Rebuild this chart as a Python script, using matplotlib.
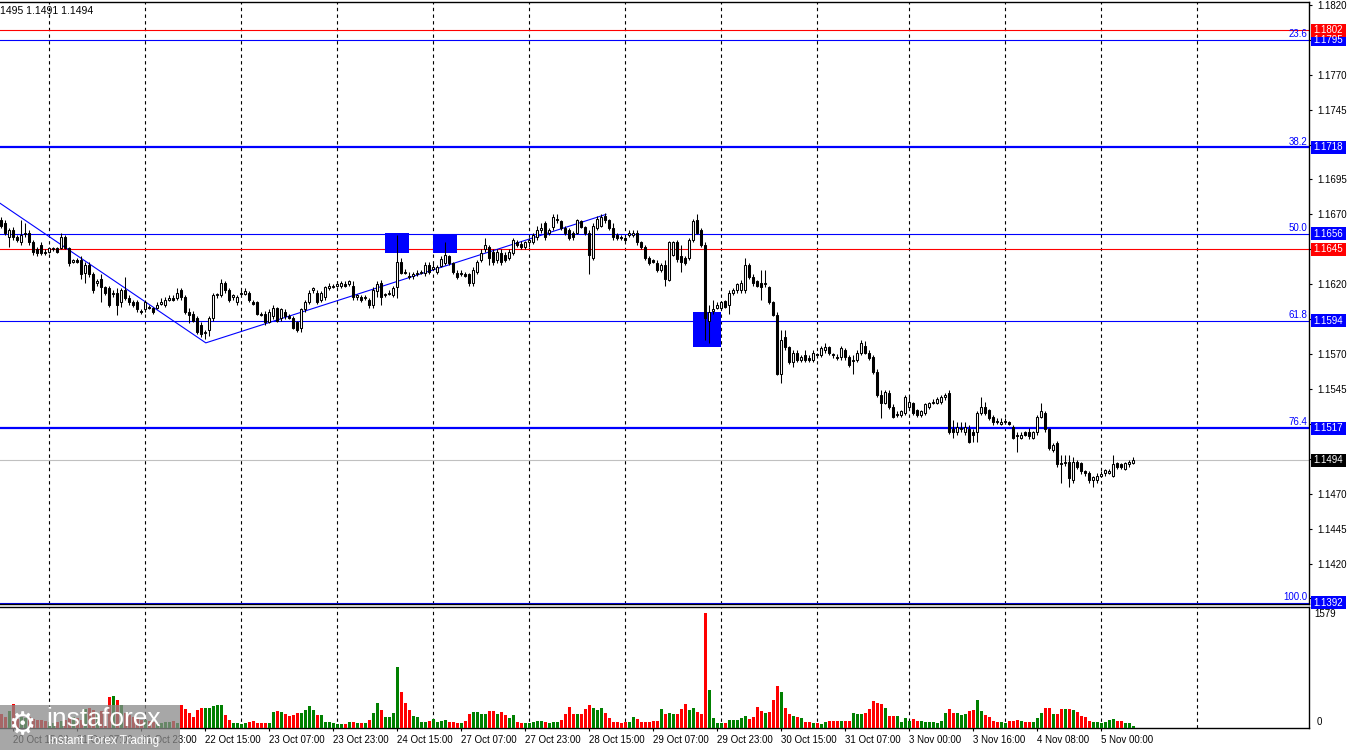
import numpy as np
import matplotlib
matplotlib.use('Agg')
import matplotlib.pyplot as plt
import matplotlib.transforms as mtransforms
from matplotlib.patches import Rectangle

plt.rcParams['font.family'] = ['Liberation Sans', 'DejaVu Sans']

#---------- EURUSD H1 candles ----------
opens = [1.1666, 1.1664, 1.1654, 1.1659, 1.1654, 1.1650, 1.1656, 1.1657, 1.1650, 1.1645,
         1.1648, 1.1643, 1.1643, 1.1645, 1.1646, 1.1646, 1.1654, 1.1646, 1.1636, 1.1637,
         1.1637, 1.1628, 1.1634, 1.1627, 1.1621, 1.1624, 1.1618, 1.1617, 1.1613, 1.1614,
         1.1607, 1.1616, 1.1610, 1.1607, 1.1607, 1.1601, 1.1602, 1.1604, 1.1603, 1.1603,
         1.1606, 1.1605, 1.1609, 1.1610, 1.1610, 1.1616, 1.1611, 1.1600, 1.1599, 1.1596,
         1.1591, 1.1585, 1.1587, 1.1596, 1.1612, 1.1612, 1.1621, 1.1616, 1.1611, 1.1607,
         1.1613, 1.1613, 1.1614, 1.1607, 1.1607, 1.1599, 1.1599, 1.1593, 1.1597, 1.1603,
         1.1596, 1.1600, 1.1597, 1.1596, 1.1593, 1.1589, 1.1602, 1.1607, 1.1616, 1.1614,
         1.1609, 1.1611, 1.1617, 1.1618, 1.1619, 1.1619, 1.1620, 1.1620, 1.1619, 1.1611,
         1.1611, 1.1610, 1.1609, 1.1605, 1.1615, 1.1621, 1.1612, 1.1613, 1.1612, 1.1618,
         1.1636, 1.1629, 1.1626, 1.1626, 1.1627, 1.1628, 1.1628, 1.1634, 1.1631, 1.1629,
         1.1633, 1.1635, 1.1640, 1.1635, 1.1628, 1.1627, 1.1627, 1.1627, 1.1621, 1.1629,
         1.1637, 1.1645, 1.1647, 1.1643, 1.1637, 1.1642, 1.1641, 1.1639, 1.1642, 1.1650,
         1.1649, 1.1647, 1.1650, 1.1650, 1.1654, 1.1659, 1.1664, 1.1657, 1.1661, 1.1666,
         1.1665, 1.1660, 1.1659, 1.1657, 1.1657, 1.1665, 1.1661, 1.1657, 1.1639, 1.1660,
         1.1662, 1.1669, 1.1666, 1.1660, 1.1655, 1.1654, 1.1653, 1.1655, 1.1655, 1.1657,
         1.1650, 1.1647, 1.1639, 1.1637, 1.1635, 1.1630, 1.1634, 1.1623, 1.1641, 1.1650,
         1.1640, 1.1639, 1.1639, 1.1652, 1.1666, 1.1659, 1.1648, 1.1594, 1.1601, 1.1603,
         1.1603, 1.1608, 1.1605, 1.1614, 1.1616, 1.1616, 1.1616, 1.1634, 1.1625, 1.1622,
         1.1621, 1.1620, 1.1618, 1.1607, 1.1598, 1.1556, 1.1582, 1.1575, 1.1564, 1.1571,
         1.1566, 1.1569, 1.1567, 1.1566, 1.1570, 1.1569, 1.1573, 1.1575, 1.1570, 1.1568,
         1.1568, 1.1573, 1.1568, 1.1565, 1.1566, 1.1571, 1.1576, 1.1571, 1.1568, 1.1557,
         1.1541, 1.1535, 1.1542, 1.1532, 1.1526, 1.1526, 1.1528, 1.1532, 1.1535, 1.1530,
         1.1526, 1.1528, 1.1532, 1.1535, 1.1535, 1.1536, 1.1539, 1.1542, 1.1516, 1.1514,
         1.1516, 1.1514, 1.1516, 1.1514, 1.1514, 1.1528, 1.1532, 1.1530, 1.1525, 1.1522,
         1.1520, 1.1521, 1.1521, 1.1518, 1.1512, 1.1510, 1.1514, 1.1514, 1.1510, 1.1514,
         1.1525, 1.1528, 1.1516, 1.1501, 1.1506, 1.1492, 1.1492, 1.1493, 1.1480, 1.1493,
         1.1492, 1.1486, 1.1485, 1.1480, 1.1480, 1.1483, 1.1485, 1.1485, 1.1483, 1.1492,
         1.1491, 1.1488, 1.1491, 1.1492]

highs = [1.1668, 1.1666, 1.1660, 1.1661, 1.1655, 1.1666, 1.1664, 1.1659, 1.1652, 1.1647,
         1.1650, 1.1645, 1.1647, 1.1647, 1.1647, 1.1657, 1.1655, 1.1647, 1.1638, 1.1639,
         1.1640, 1.1636, 1.1636, 1.1629, 1.1624, 1.1627, 1.1619, 1.1619, 1.1616, 1.1617,
         1.1617, 1.1625, 1.1612, 1.1609, 1.1609, 1.1602, 1.1609, 1.1605, 1.1604, 1.1607,
         1.1610, 1.1611, 1.1612, 1.1612, 1.1617, 1.1617, 1.1612, 1.1603, 1.1601, 1.1597,
         1.1593, 1.1587, 1.1597, 1.1614, 1.1614, 1.1624, 1.1622, 1.1617, 1.1613, 1.1612,
         1.1616, 1.1617, 1.1615, 1.1609, 1.1608, 1.1600, 1.1601, 1.1602, 1.1605, 1.1604,
         1.1603, 1.1602, 1.1599, 1.1597, 1.1594, 1.1603, 1.1609, 1.1616, 1.1618, 1.1616,
         1.1615, 1.1619, 1.1621, 1.1620, 1.1622, 1.1622, 1.1622, 1.1623, 1.1622, 1.1613,
         1.1612, 1.1612, 1.1610, 1.1618, 1.1622, 1.1623, 1.1614, 1.1616, 1.1619, 1.1655,
         1.1639, 1.1631, 1.1629, 1.1629, 1.1630, 1.1630, 1.1636, 1.1636, 1.1636, 1.1634,
         1.1640, 1.1650, 1.1641, 1.1636, 1.1630, 1.1630, 1.1629, 1.1628, 1.1632, 1.1637,
         1.1645, 1.1653, 1.1648, 1.1645, 1.1645, 1.1645, 1.1643, 1.1645, 1.1653, 1.1652,
         1.1651, 1.1651, 1.1653, 1.1657, 1.1662, 1.1664, 1.1665, 1.1660, 1.1670, 1.1670,
         1.1666, 1.1662, 1.1660, 1.1658, 1.1667, 1.1666, 1.1662, 1.1659, 1.1664, 1.1669,
         1.1670, 1.1671, 1.1667, 1.1664, 1.1657, 1.1655, 1.1654, 1.1659, 1.1659, 1.1659,
         1.1651, 1.1648, 1.1640, 1.1638, 1.1637, 1.1635, 1.1637, 1.1651, 1.1651, 1.1652,
         1.1648, 1.1640, 1.1653, 1.1667, 1.1670, 1.1660, 1.1650, 1.1605, 1.1609, 1.1607,
         1.1608, 1.1609, 1.1616, 1.1617, 1.1621, 1.1623, 1.1639, 1.1635, 1.1627, 1.1623,
         1.1630, 1.1630, 1.1619, 1.1608, 1.1600, 1.1587, 1.1587, 1.1576, 1.1573, 1.1573,
         1.1569, 1.1573, 1.1569, 1.1573, 1.1571, 1.1576, 1.1578, 1.1576, 1.1571, 1.1570,
         1.1576, 1.1574, 1.1569, 1.1569, 1.1573, 1.1580, 1.1579, 1.1573, 1.1569, 1.1559,
         1.1544, 1.1544, 1.1544, 1.1534, 1.1529, 1.1530, 1.1541, 1.1539, 1.1536, 1.1531,
         1.1530, 1.1535, 1.1536, 1.1538, 1.1539, 1.1541, 1.1542, 1.1544, 1.1523, 1.1521,
         1.1521, 1.1521, 1.1519, 1.1516, 1.1529, 1.1539, 1.1536, 1.1531, 1.1526, 1.1524,
         1.1524, 1.1524, 1.1522, 1.1519, 1.1514, 1.1514, 1.1515, 1.1517, 1.1515, 1.1526,
         1.1535, 1.1529, 1.1517, 1.1506, 1.1508, 1.1498, 1.1498, 1.1498, 1.1496, 1.1494,
         1.1493, 1.1487, 1.1486, 1.1483, 1.1485, 1.1486, 1.1488, 1.1488, 1.1498, 1.1493,
         1.1492, 1.1493, 1.1494, 1.1496]

lows = [1.1660, 1.1655, 1.1647, 1.1652, 1.1650, 1.1648, 1.1654, 1.1648, 1.1641, 1.1640,
        1.1641, 1.1641, 1.1642, 1.1644, 1.1642, 1.1645, 1.1645, 1.1633, 1.1635, 1.1635,
        1.1624, 1.1621, 1.1625, 1.1614, 1.1619, 1.1607, 1.1612, 1.1604, 1.1611, 1.1598,
        1.1604, 1.1609, 1.1605, 1.1604, 1.1600, 1.1599, 1.1600, 1.1602, 1.1599, 1.1602,
        1.1605, 1.1604, 1.1608, 1.1608, 1.1609, 1.1609, 1.1599, 1.1592, 1.1593, 1.1584,
        1.1582, 1.1581, 1.1583, 1.1594, 1.1610, 1.1611, 1.1614, 1.1607, 1.1609, 1.1605,
        1.1612, 1.1612, 1.1607, 1.1605, 1.1598, 1.1597, 1.1591, 1.1592, 1.1595, 1.1593,
        1.1594, 1.1595, 1.1595, 1.1588, 1.1586, 1.1586, 1.1600, 1.1606, 1.1614, 1.1606,
        1.1607, 1.1609, 1.1616, 1.1617, 1.1618, 1.1617, 1.1618, 1.1619, 1.1609, 1.1609,
        1.1607, 1.1609, 1.1603, 1.1603, 1.1611, 1.1605, 1.1611, 1.1612, 1.1611, 1.1610,
        1.1627, 1.1627, 1.1624, 1.1624, 1.1626, 1.1627, 1.1626, 1.1627, 1.1630, 1.1627,
        1.1632, 1.1634, 1.1634, 1.1627, 1.1624, 1.1626, 1.1625, 1.1619, 1.1619, 1.1627,
        1.1636, 1.1643, 1.1634, 1.1634, 1.1635, 1.1634, 1.1636, 1.1637, 1.1641, 1.1647,
        1.1645, 1.1645, 1.1647, 1.1649, 1.1652, 1.1657, 1.1652, 1.1655, 1.1659, 1.1664,
        1.1659, 1.1655, 1.1652, 1.1652, 1.1656, 1.1660, 1.1655, 1.1627, 1.1637, 1.1659,
        1.1661, 1.1664, 1.1659, 1.1652, 1.1652, 1.1652, 1.1650, 1.1654, 1.1654, 1.1648,
        1.1645, 1.1637, 1.1634, 1.1635, 1.1629, 1.1629, 1.1619, 1.1622, 1.1640, 1.1636,
        1.1629, 1.1634, 1.1637, 1.1650, 1.1656, 1.1647, 1.1580, 1.1578, 1.1599, 1.1602,
        1.1602, 1.1603, 1.1599, 1.1612, 1.1614, 1.1614, 1.1614, 1.1624, 1.1619, 1.1618,
        1.1609, 1.1618, 1.1606, 1.1597, 1.1555, 1.1549, 1.1573, 1.1563, 1.1561, 1.1564,
        1.1564, 1.1564, 1.1564, 1.1564, 1.1567, 1.1568, 1.1571, 1.1569, 1.1567, 1.1566,
        1.1566, 1.1566, 1.1561, 1.1556, 1.1564, 1.1569, 1.1570, 1.1566, 1.1556, 1.1539,
        1.1524, 1.1534, 1.1531, 1.1524, 1.1525, 1.1525, 1.1526, 1.1531, 1.1526, 1.1525,
        1.1525, 1.1526, 1.1531, 1.1534, 1.1534, 1.1534, 1.1537, 1.1513, 1.1510, 1.1512,
        1.1514, 1.1512, 1.1506, 1.1507, 1.1507, 1.1526, 1.1526, 1.1523, 1.1519, 1.1520,
        1.1519, 1.1520, 1.1519, 1.1509, 1.1500, 1.1509, 1.1511, 1.1509, 1.1509, 1.1512,
        1.1524, 1.1514, 1.1501, 1.1500, 1.1489, 1.1478, 1.1490, 1.1475, 1.1478, 1.1488,
        1.1484, 1.1483, 1.1478, 1.1475, 1.1478, 1.1482, 1.1483, 1.1484, 1.1482, 1.1488,
        1.1488, 1.1487, 1.1489, 1.1491]

closes = [1.1662, 1.1657, 1.1659, 1.1654, 1.1652, 1.1655, 1.1657, 1.1650, 1.1643, 1.1642,
          1.1642, 1.1642, 1.1646, 1.1646, 1.1643, 1.1654, 1.1646, 1.1635, 1.1637, 1.1636,
          1.1627, 1.1634, 1.1627, 1.1616, 1.1622, 1.1618, 1.1614, 1.1605, 1.1614, 1.1605,
          1.1616, 1.1610, 1.1607, 1.1605, 1.1602, 1.1600, 1.1607, 1.1603, 1.1600, 1.1605,
          1.1607, 1.1609, 1.1610, 1.1609, 1.1614, 1.1611, 1.1600, 1.1598, 1.1594, 1.1586,
          1.1584, 1.1586, 1.1596, 1.1612, 1.1613, 1.1621, 1.1616, 1.1609, 1.1612, 1.1611,
          1.1614, 1.1615, 1.1609, 1.1606, 1.1599, 1.1598, 1.1593, 1.1600, 1.1603, 1.1594,
          1.1602, 1.1597, 1.1596, 1.1589, 1.1587, 1.1602, 1.1607, 1.1614, 1.1617, 1.1607,
          1.1614, 1.1618, 1.1619, 1.1619, 1.1620, 1.1621, 1.1619, 1.1622, 1.1611, 1.1612,
          1.1609, 1.1611, 1.1605, 1.1616, 1.1620, 1.1611, 1.1613, 1.1614, 1.1617, 1.1636,
          1.1628, 1.1628, 1.1625, 1.1627, 1.1628, 1.1629, 1.1634, 1.1629, 1.1632, 1.1632,
          1.1638, 1.1641, 1.1635, 1.1629, 1.1625, 1.1628, 1.1626, 1.1621, 1.1630, 1.1636,
          1.1642, 1.1648, 1.1639, 1.1636, 1.1643, 1.1636, 1.1637, 1.1643, 1.1652, 1.1648,
          1.1647, 1.1650, 1.1652, 1.1655, 1.1659, 1.1660, 1.1654, 1.1659, 1.1668, 1.1667,
          1.1660, 1.1657, 1.1653, 1.1654, 1.1666, 1.1661, 1.1657, 1.1641, 1.1662, 1.1667,
          1.1668, 1.1666, 1.1660, 1.1654, 1.1653, 1.1653, 1.1652, 1.1657, 1.1657, 1.1650,
          1.1647, 1.1639, 1.1635, 1.1636, 1.1630, 1.1634, 1.1624, 1.1650, 1.1650, 1.1638,
          1.1636, 1.1635, 1.1652, 1.1665, 1.1657, 1.1648, 1.1596, 1.1600, 1.1602, 1.1605,
          1.1607, 1.1604, 1.1614, 1.1616, 1.1620, 1.1621, 1.1634, 1.1625, 1.1621, 1.1619,
          1.1618, 1.1621, 1.1607, 1.1598, 1.1556, 1.1580, 1.1575, 1.1564, 1.1571, 1.1566,
          1.1568, 1.1566, 1.1566, 1.1571, 1.1569, 1.1574, 1.1575, 1.1571, 1.1569, 1.1567,
          1.1574, 1.1568, 1.1562, 1.1566, 1.1571, 1.1578, 1.1571, 1.1567, 1.1557, 1.1541,
          1.1535, 1.1543, 1.1532, 1.1525, 1.1527, 1.1529, 1.1539, 1.1536, 1.1528, 1.1526,
          1.1529, 1.1534, 1.1535, 1.1536, 1.1538, 1.1539, 1.1541, 1.1514, 1.1514, 1.1518,
          1.1517, 1.1518, 1.1507, 1.1512, 1.1528, 1.1532, 1.1528, 1.1524, 1.1521, 1.1521,
          1.1521, 1.1522, 1.1520, 1.1510, 1.1511, 1.1512, 1.1512, 1.1511, 1.1514, 1.1525,
          1.1529, 1.1516, 1.1503, 1.1505, 1.1491, 1.1491, 1.1493, 1.1481, 1.1493, 1.1489,
          1.1486, 1.1485, 1.1480, 1.1482, 1.1483, 1.1484, 1.1487, 1.1486, 1.1491, 1.1489,
          1.1489, 1.1492, 1.1493, 1.1494]

volumes = [190, 150, 230, 320, 120, 150, 130, 150, 120, 110,
           100, 90, 80, 70, 80, 90, 110, 130, 150, 130,
           110, 260, 270, 240, 200, 230, 240, 427, 436, 381,
           312, 200, 170, 150, 130, 110, 100, 90, 80, 70,
           70, 80, 80, 90, 70, 312, 252, 197, 151, 243,
           266, 266, 275, 298, 312, 312, 174, 106, 69, 60,
           50, 69, 83, 92, 69, 69, 69, 69, 220, 230,
           211, 184, 161, 174, 197, 207, 243, 298, 243, 174,
           174, 83, 83, 60, 46, 46, 50, 83, 73, 69,
           69, 69, 106, 197, 335, 243, 151, 151, 197, 836,
           496, 335, 243, 161, 151, 83, 83, 96, 115, 83,
           96, 106, 73, 83, 69, 69, 92, 184, 211, 220,
           184, 184, 230, 230, 184, 211, 174, 138, 174, 73,
           69, 69, 69, 83, 96, 92, 83, 69, 73, 73,
           106, 188, 289, 184, 184, 184, 252, 312, 275, 243,
           266, 197, 138, 73, 73, 60, 73, 73, 151, 119,
           83, 83, 83, 92, 92, 257, 184, 207, 184, 184,
           252, 326, 243, 275, 220, 188, 1579, 519, 138, 60,
           69, 69, 106, 106, 106, 138, 165, 115, 151, 289,
           234, 197, 220, 381, 578, 491, 266, 184, 161, 151,
           129, 83, 73, 69, 69, 50, 83, 92, 92, 92,
           92, 92, 96, 197, 188, 188, 197, 252, 367, 335,
           326, 266, 161, 161, 161, 83, 129, 96, 115, 92,
           92, 78, 78, 83, 69, 92, 197, 252, 207, 207,
           170, 188, 230, 243, 381, 230, 174, 151, 92, 83,
           83, 69, 92, 92, 106, 92, 83, 83, 83, 129,
           207, 266, 266, 188, 184, 252, 252, 252, 243, 211,
           161, 142, 92, 83, 73, 69, 83, 106, 119, 96,
           92, 69, 69, 23]

# time axis (bar numbers of the labels and of each day start)
time_labels = ['20 Oct 15:00', '21 Oct 07:00', '21 Oct 23:00', '22 Oct 15:00',
               '23 Oct 07:00', '23 Oct 23:00', '24 Oct 15:00', '27 Oct 07:00',
               '27 Oct 23:00', '28 Oct 15:00', '29 Oct 07:00', '29 Oct 23:00',
               '30 Oct 15:00', '31 Oct 07:00', '3 Nov 00:00', '3 Nov 16:00',
               '4 Nov 08:00', '5 Nov 00:00']
time_label_bars = [3, 19, 35, 51, 67, 83, 99, 115, 131, 147, 163, 179,
                   195, 211, 227, 243, 259, 275]
day_start_bars = [12, 36, 60, 84, 108, 132, 156, 180, 204, 227, 251, 275, 299]

# levels
fibo_prices = [1.1795, 1.1718, 1.1656, 1.1594, 1.1517, 1.1392]
fibo_names = ['23.6', '38.2', '50.0', '61.8', '76.4', '100.0']
red_prices = [1.1802, 1.1645]
last_price = 1.1494
header_text = '1495 1.1491 1.1494'

# trend lines and signal zones
trend_bars = [-0.25, 51.2, 151.25]
trend_prices = [1.1678, 1.1578, 1.1670]
zone_start = [96, 108, 173]
zone_end = [102, 114, 180]
zone_low = [1.1642, 1.1642, 1.1575]
zone_high = [1.1657, 1.1655, 1.1600]

vol_max_label = 1579

#---------- drawing ----------
BLUE = '#0000ff'
RED = '#ff0000'
GREEN = '#008000'
FS = 7

o = np.array(opens); h = np.array(highs); l = np.array(lows); c = np.array(closes)
v = np.array(volumes)
x = np.arange(len(c))
up = c >= o

fig = plt.figure(figsize=(13.5, 7.5), dpi=100)
ax = fig.add_axes([0, 146 / 750, 1309 / 1350, 602 / 750])
axv = fig.add_axes([0, 22 / 750, 1309 / 1350, 121 / 750])

xmin, xmax = -0.25, 327
ymin, ymax = 1.13910, 1.18221
ax.set_xlim(xmin, xmax)
ax.set_ylim(ymin, ymax)
axv.set_xlim(xmin, xmax)
axv.set_ylim(-4, 1662)

for a in (ax, axv):
    for s in a.spines.values():
        s.set_linewidth(1.0)
        s.set_color('black')
    a.spines['left'].set_visible(False)
    for b in day_start_bars:
        a.axvline(b, color='black', lw=0.8, ls=(0, (3, 3)), zorder=1)

# horizontal levels
thick = {1.1718, 1.1517}
for p in fibo_prices:
    ax.axhline(p, color=BLUE, lw=1.6 if p in thick else 0.8, zorder=1.5)
for p in red_prices:
    ax.axhline(p, color=RED, lw=0.8, zorder=1.5)
ax.axhline(last_price, color='#c0c0c0', lw=0.8, zorder=1.5)

# zones and trend lines
for x0, x1, y0, y1 in zip(zone_start, zone_end, zone_low, zone_high):
    ax.add_patch(Rectangle((x0, y0), x1 - x0, y1 - y0, color=BLUE, lw=0, zorder=2))
ax.plot(trend_bars, trend_prices, color=BLUE, lw=0.8, zorder=2.5)

# candles
ax.vlines(x, l, h, color='black', lw=0.75, zorder=3)
body_lo = np.minimum(o, c)
body_h = np.maximum(np.abs(c - o), 0.00004)
ax.bar(x[up], body_h[up], bottom=body_lo[up], width=0.5, color='white',
       edgecolor='black', linewidth=0.75, zorder=4)
ax.bar(x[~up], body_h[~up], bottom=body_lo[~up], width=0.5, color='black',
       edgecolor='black', linewidth=0.75, zorder=4)

# volumes
axv.bar(x, v, width=0.75, color=np.where(up, GREEN, RED), lw=0, zorder=3)

# price axis on the right; labels under the level boxes stay blank
boxed = fibo_prices + red_prices + [last_price]
yt = np.arange(1.1395, 1.18201, 0.0025)
ax.yaxis.tick_right()
ax.set_yticks(yt)
ax.set_yticklabels(['' if min(abs(t - b) for b in boxed) < 0.00055 else f'{t:.4f}'
                    for t in yt])
ax.tick_params(axis='y', direction='out', length=2.5, width=0.8, pad=3.5,
               labelsize=FS, colors='black')
ax.tick_params(axis='x', bottom=False, labelbottom=False)

# price boxes: 35 px wide, 13 px tall, starting 2 px right of the axis
px_per_price = 602 / (ymax - ymin)
bx0, bx1 = 1311 / 1309, 1346 / 1309
bh = 13 / px_per_price
trans = mtransforms.blended_transform_factory(ax.transAxes, ax.transData)


def price_box(p, colour):
    ax.add_patch(Rectangle((bx0, p - bh / 2), bx1 - bx0, bh, transform=trans,
                           facecolor=colour, lw=0, clip_on=False, zorder=9))
    ax.text((bx0 + bx1) / 2, p, f'{p:.4f}', transform=trans, ha='center',
            va='center', color='white', fontsize=FS, clip_on=False, zorder=10)


for p, name in zip(fibo_prices, fibo_names):
    ax.text(0.9985, p + 0.00006, name, transform=trans, ha='right', va='bottom',
            color=BLUE, fontsize=FS, zorder=6)
    price_box(p, BLUE)
for p in red_prices:
    price_box(p, RED)
price_box(last_price, 'black')

ax.text(0.0, 1 - 9 / 602, header_text, transform=ax.transAxes, ha='left',
        va='center', fontsize=FS + 0.5, color='black')

# volume axis
axv.set_yticks([])
axv.tick_params(axis='y', right=False, left=False)
axv.text(1.004, 1 - 7 / 121, str(vol_max_label), transform=axv.transAxes,
         ha='left', va='center', fontsize=FS, clip_on=False)
axv.text(1.006, 0.05, '0', transform=axv.transAxes, ha='left', va='center',
         fontsize=FS, clip_on=False)

axv.set_xticks(time_label_bars)
axv.set_xticklabels(time_labels, ha='left')
axv.tick_params(axis='x', direction='out', length=2.5, width=0.8, pad=2.5,
                labelsize=FS, colors='black')

# watermark box bottom-left
fig.add_artist(Rectangle((0, 0), 180 / 1350, 45 / 750, transform=fig.transFigure,
                         color='#8a8a8a', alpha=0.75, lw=0, zorder=20))
fig.text(8 / 1350, 1 - 726 / 750, '\u2699', fontsize=22, color='white',
         va='center', ha='left', family='DejaVu Sans', zorder=21)
fig.text(46 / 1350, 1 - 719 / 750, 'instaforex', fontsize=19, color='white',
         va='center', ha='left', zorder=21)
fig.text(48 / 1350, 1 - 741 / 750, 'Instant Forex Trading', fontsize=8.5,
         color='white', va='center', ha='left', zorder=21)

fig.savefig('out.png', dpi=100)
